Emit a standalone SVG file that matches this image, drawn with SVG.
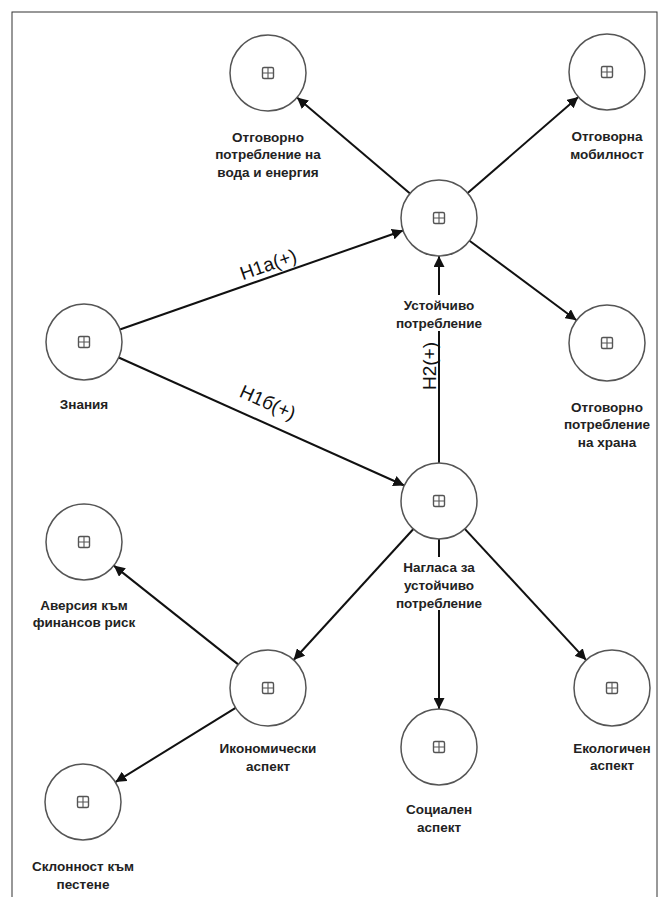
<svg xmlns="http://www.w3.org/2000/svg" width="668" height="897" viewBox="0 0 668 897">
<defs>
<marker id="arr" viewBox="0 0 10 10" refX="10" refY="5" markerWidth="11" markerHeight="11" markerUnits="userSpaceOnUse" orient="auto">
<path d="M0,0 L10,5 L0,10 z" fill="#111"/>
</marker>
<g id="ico"><rect x="-5.5" y="-5.5" width="11" height="11" rx="1.5" fill="none" stroke="#555" stroke-width="1.4"/><path d="M-5.5,0 H5.5 M0,-5.5 V5.5" stroke="#555" stroke-width="1.1"/></g>
</defs>
<style>
.n{fill:#fff;stroke:#555;stroke-width:1.5}
.l{font-family:"Liberation Sans",Arial,sans-serif;font-size:13.5px;font-weight:bold;fill:#222;text-anchor:middle}
.e{stroke:#111;stroke-width:2;fill:none;marker-end:url(#arr)}
.h{font-family:"Liberation Sans",Arial,sans-serif;font-size:19px;fill:#111;text-anchor:middle}
</style>
<rect x="0" y="0" width="668" height="897" fill="#fff"/>
<rect x="12" y="12" width="645" height="895" fill="none" stroke="#333" stroke-width="1"/>
<g id="connectors">
<line class="e" x1="410" y1="193.4" x2="297" y2="97.6"/>
<line class="e" x1="467.7" y1="193.1" x2="578.3" y2="96.9"/>
<line class="e" x1="469.5" y1="240.7" x2="576.5" y2="320.3"/>
<line class="e" x1="119.9" y1="329.5" x2="403.1" y2="230.5"/>
<line class="e" x1="118.7" y1="357.5" x2="404.3" y2="485.5"/>
<line class="e" x1="439" y1="463" x2="439" y2="256"/>
<line class="e" x1="413.4" y1="529" x2="293.6" y2="660"/>
<line class="e" x1="439" y1="539" x2="439" y2="709"/>
<line class="e" x1="464.8" y1="528.9" x2="586.2" y2="660.1"/>
<line class="e" x1="238.2" y1="664.4" x2="113.8" y2="565.6"/>
<line class="e" x1="235.6" y1="707.9" x2="115.4" y2="782.1"/>
<text class="h" transform="translate(268,264) rotate(-19.25)" y="7">H1a(+)</text>
<text class="h" transform="translate(268,402) rotate(24.1)" y="7">H1б(+)</text>
<text class="h" transform="translate(429,366) rotate(-90)" y="7">H2(+)</text>
</g>
<g id="voda">
<circle class="n" cx="268" cy="73" r="38"/><use href="#ico" x="268" y="73"/>
<text class="l" x="268" y="142">Отговорно</text>
<text class="l" x="268" y="159">потребление на</text>
<text class="l" x="268" y="177">вода и енергия</text>
</g>
<g id="mobilnost">
<circle class="n" cx="607" cy="72" r="38"/><use href="#ico" x="607" y="72"/>
<text class="l" x="607" y="141">Отговорна</text>
<text class="l" x="607" y="159">мобилност</text>
</g>
<g id="ustoichivo">
<circle class="n" cx="439" cy="218" r="38"/><use href="#ico" x="439" y="218"/>
<rect x="430" y="295" width="18" height="36" fill="#fff"/>
<text class="l" x="439" y="310">Устойчиво</text>
<text class="l" x="439" y="328">потребление</text>
</g>
<g id="znania">
<circle class="n" cx="84" cy="342" r="38"/><use href="#ico" x="84" y="342"/>
<text class="l" x="84" y="409">Знания</text>
</g>
<g id="hrana">
<circle class="n" cx="607" cy="343" r="38"/><use href="#ico" x="607" y="343"/>
<text class="l" x="607" y="412">Отговорно</text>
<text class="l" x="607" y="429">потребление</text>
<text class="l" x="607" y="447">на храна</text>
</g>
<g id="naglasa">
<circle class="n" cx="439" cy="501" r="38"/><use href="#ico" x="439" y="501"/>
<rect x="430" y="557" width="18" height="53" fill="#fff"/>
<text class="l" x="439" y="572">Нагласа за</text>
<text class="l" x="439" y="590">устойчиво</text>
<text class="l" x="439" y="608">потребление</text>
</g>
<g id="aversia">
<circle class="n" cx="84" cy="542" r="38"/><use href="#ico" x="84" y="542"/>
<text class="l" x="84" y="610">Аверсия към</text>
<text class="l" x="84" y="627">финансов риск</text>
</g>
<g id="ikonomicheski">
<circle class="n" cx="268" cy="688" r="38"/><use href="#ico" x="268" y="688"/>
<text class="l" x="268" y="753">Икономически</text>
<text class="l" x="268" y="771">аспект</text>
</g>
<g id="socialen">
<circle class="n" cx="439" cy="747" r="38"/><use href="#ico" x="439" y="747"/>
<text class="l" x="439" y="814">Социален</text>
<text class="l" x="439" y="832">аспект</text>
</g>
<g id="ekologichen">
<circle class="n" cx="612" cy="688" r="38"/><use href="#ico" x="612" y="688"/>
<text class="l" x="612" y="753">Екологичен</text>
<text class="l" x="612" y="770">аспект</text>
</g>
<g id="sklonnost">
<circle class="n" cx="83" cy="802" r="38"/><use href="#ico" x="83" y="802"/>
<text class="l" x="83" y="871">Склонност към</text>
<text class="l" x="83" y="889">пестене</text>
</g>
</svg>
